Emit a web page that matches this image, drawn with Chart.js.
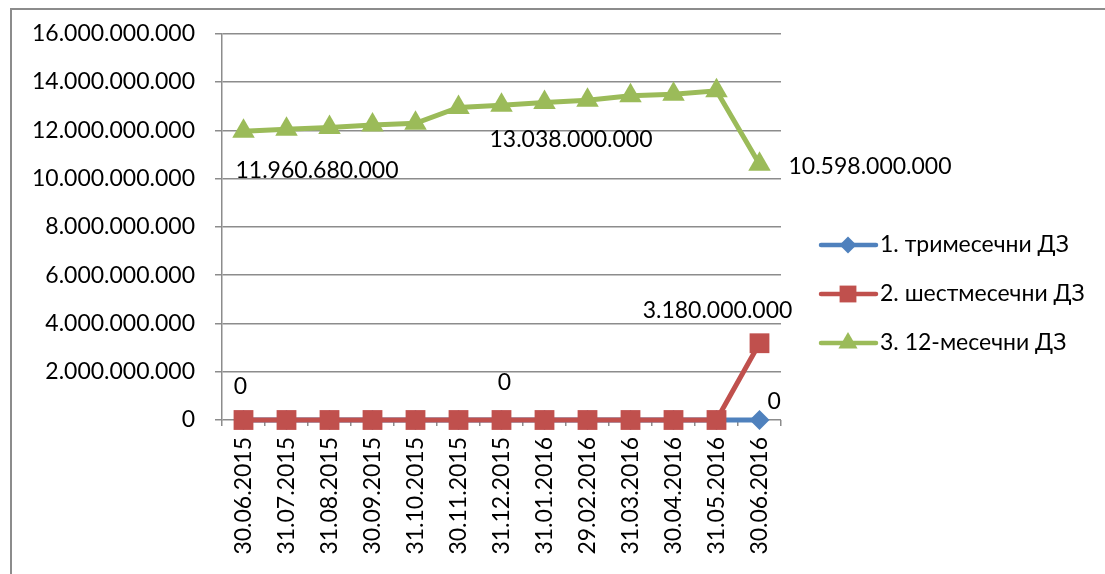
<!DOCTYPE html>
<html>
<head>
<meta charset="utf-8">
<script src="https://cdn.jsdelivr.net/npm/chart.js@4.4.0/dist/chart.umd.min.js"></script>
<style>
  html, body { margin: 0; padding: 0; background: #fff; }
  #wrap { width: 1105px; height: 574px; }
</style>
</head>
<body>
<div id="wrap"><canvas id="chart" width="1105" height="574"></canvas></div>
<script>
// data
const dates = ["30.06.2015", "31.07.2015", "31.08.2015", "30.09.2015", "31.10.2015", "30.11.2015",
  "31.12.2015", "31.01.2016", "29.02.2016", "31.03.2016", "30.04.2016", "31.05.2016", "30.06.2016"];
const threeMonth = [0, 0, 0, 0, 0, 0, 0, 0, 0, 0, 0, 0, 0];
const sixMonth = [0, 0, 0, 0, 0, 0, 0, 0, 0, 0, 0, 0, 3180000000];
const twelveMonth = [11960680000, 12050000000, 12120000000, 12220000000, 12290000000, 12950000000,
  13038000000, 13150000000, 13250000000, 13430000000, 13500000000, 13640000000, 10598000000];
const seriesNames = ["1. тримесечни ДЗ", "2. шестмесечни ДЗ", "3. 12-месечни ДЗ"];
const yMax = 16000000000;
const yStep = 2000000000;

// points that carry a value label: [series, index]
const labelledPoints = [[0, 12], [1, 0], [1, 6], [1, 12], [2, 0], [2, 6], [2, 12]];

const colors = ["#4F81BD", "#C0504D", "#9BBB59"];
const shapes = ["rectRot", "rect", "triangle"];
const radii = [10, 14, 13];
const FONT = 'Lato, "Open Sans", sans-serif';
const FSIZE = 23;

// label offsets relative to the point, same order as labelledPoints
const labelOffsets = [
  { dx: 8, dy: -18, align: "left" },
  { dx: -3, dy: -33, align: "center" },
  { dx: 3, dy: -37, align: "center" },
  { dx: -42, dy: -33, align: "center" },
  { dx: -8, dy: 39, align: "left" },
  { dx: -12, dy: 34, align: "left" },
  { dx: 29, dy: 2, align: "left" }
];

function fmt(v) {
  return String(Math.round(v)).replace(/\B(?=(\d{3})+(?!\d))/g, ".");
}

const frame = {
  id: "frame",
  beforeDraw(chart) {
    const ctx = chart.ctx;
    ctx.save();
    ctx.strokeStyle = "#8c8c8c";
    ctx.lineWidth = 2;
    ctx.beginPath();
    ctx.moveTo(11, 574);
    ctx.lineTo(11, 9);
    ctx.lineTo(1105, 9);
    ctx.stroke();
    ctx.restore();
  }
};

const valueLabels = {
  id: "valueLabels",
  afterDatasetsDraw(chart) {
    const ctx = chart.ctx;
    ctx.save();
    ctx.font = FSIZE + "px " + FONT;
    ctx.fillStyle = "#000";
    ctx.textBaseline = "middle";
    labelledPoints.forEach(([s, i], k) => {
      const pt = chart.getDatasetMeta(s).data[i];
      const off = labelOffsets[k];
      ctx.textAlign = off.align;
      ctx.fillText(fmt(chart.data.datasets[s].data[i]), pt.x + off.dx, pt.y + off.dy);
    });
    ctx.restore();
  }
};

function drawMarker(ctx, shape, r, x, y) {
  ctx.beginPath();
  if (shape === "rect") {
    const h = r * Math.SQRT1_2;
    ctx.rect(x - h, y - h, 2 * h, 2 * h);
  } else if (shape === "rectRot") {
    ctx.moveTo(x, y - r); ctx.lineTo(x + r, y); ctx.lineTo(x, y + r); ctx.lineTo(x - r, y);
    ctx.closePath();
  } else {
    ctx.moveTo(x, y - r);
    ctx.lineTo(x + r * 0.866, y + r / 2);
    ctx.lineTo(x - r * 0.866, y + r / 2);
    ctx.closePath();
  }
  ctx.fill();
}

const sideLegend = {
  id: "sideLegend",
  afterDraw(chart) {
    const ctx = chart.ctx;
    ctx.save();
    ctx.font = FSIZE + "px " + FONT;
    ctx.textBaseline = "middle";
    ctx.textAlign = "left";
    seriesNames.forEach((name, i) => {
      const y = 245 + i * 49;
      ctx.strokeStyle = colors[i];
      ctx.fillStyle = colors[i];
      ctx.lineWidth = 4.5;
      ctx.lineCap = "round";
      ctx.beginPath();
      ctx.moveTo(821, y);
      ctx.lineTo(876, y);
      ctx.stroke();
      drawMarker(ctx, shapes[i], radii[i] * 0.85, 848, y);
      ctx.fillStyle = "#000";
      ctx.fillText(name, 880, y);
    });
    ctx.restore();
  }
};

const seriesData = [threeMonth, sixMonth, twelveMonth];

new Chart(document.getElementById("chart"), {
  type: "line",
  data: {
    labels: dates,
    datasets: seriesData.map((d, i) => ({
      label: seriesNames[i],
      data: d,
      borderColor: colors[i],
      backgroundColor: colors[i],
      borderWidth: 5,
      pointStyle: shapes[i],
      pointRadius: radii[i],
      pointBorderWidth: 0,
      tension: 0,
      clip: false,
      order: 3 - i
    }))
  },
  options: {
    responsive: false,
    animation: false,
    layout: { padding: { top: 33, right: 324, left: 0, bottom: 0 } },
    plugins: {
      legend: { display: false },
      tooltip: { enabled: false }
    },
    scales: {
      x: {
        offset: true,
        grid: { display: true, drawOnChartArea: false, offset: true, tickLength: 6, color: "#8c8c8c", lineWidth: 1.5 },
        border: { display: false },
        ticks: {
          autoSkip: false, minRotation: 90, maxRotation: 90, padding: 11,
          color: "#000", font: { size: FSIZE, family: FONT }
        },
        afterFit(scale) { scale.height = 154; }
      },
      y: {
        min: 0,
        max: yMax,
        grid: { color: "#8c8c8c", lineWidth: 1.5, tickLength: 7 },
        border: { color: "#8c8c8c", width: 1.5 },
        ticks: {
          stepSize: yStep, padding: 20,
          color: "#000", font: { size: FSIZE, family: FONT },
          callback: v => fmt(v)
        },
        afterFit(scale) { scale.width = 222; }
      }
    }
  },
  plugins: [frame, valueLabels, sideLegend]
});
</script>
</body>
</html>
